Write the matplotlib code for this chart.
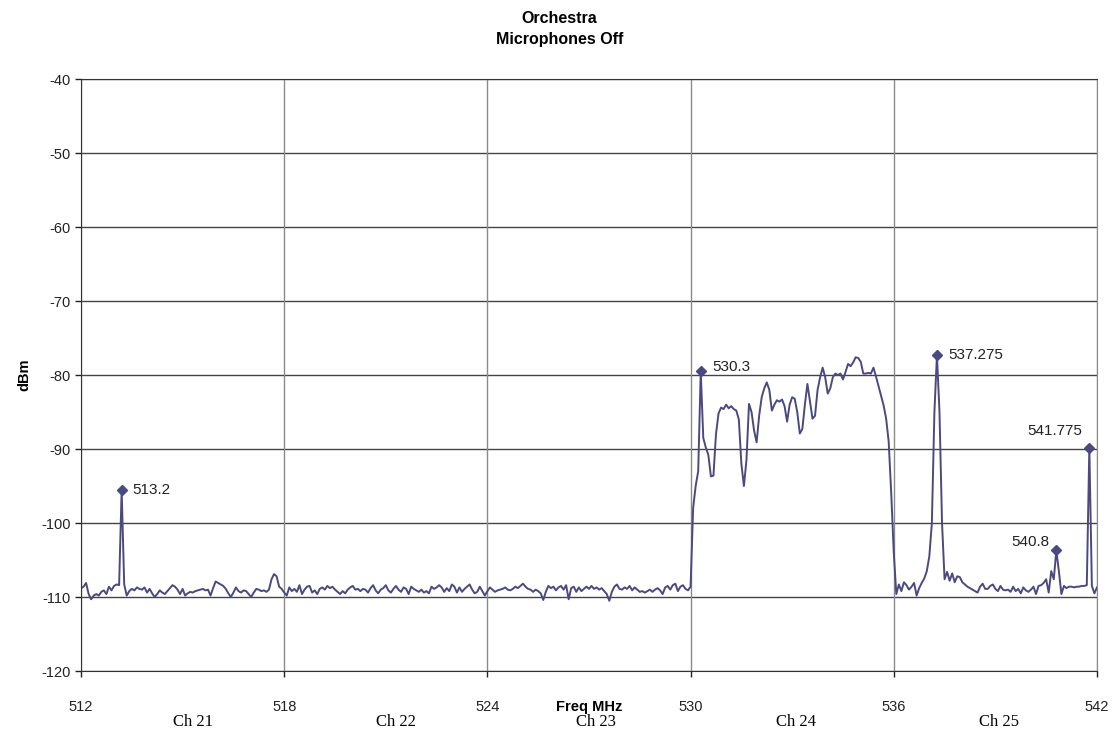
"""
Spectrum scan - Orchestra, microphones off
"""

import numpy as np
import matplotlib.pyplot as plt

plt.rcParams['font.family'] = ['Liberation Sans', 'DejaVu Sans']
plt.rcParams['axes.unicode_minus'] = False

#%% Data (401 sweep points, 0.075 MHz step)
f_start, f_stop = 512, 542
dbm = [
    -108.8, -108.6, -108.1, -109.6, -110.3, -109.8, -109.6, -109.8, -109.3, -109.1,
    -109.6, -108.6, -109.1, -108.5, -108.3, -108.4, -95.5, -108.3, -109.8, -109.2,
    -108.9, -109.1, -108.7, -108.9, -109.0, -108.7, -109.4, -108.9, -109.5, -110.0,
    -109.6, -109.1, -109.4, -109.6, -109.2, -108.8, -108.4, -108.6, -109.0, -109.6,
    -108.9, -109.8, -109.5, -109.3, -109.4, -109.2, -109.1, -109.0, -108.9, -109.1,
    -109.0, -109.8, -108.8, -107.9, -108.1, -108.3, -108.5, -108.9, -109.5, -110.0,
    -109.4, -108.7, -109.2, -109.4, -109.1, -109.2, -109.6, -110.0, -109.4, -108.9,
    -109.0, -109.2, -109.1, -109.3, -109.0, -107.6, -106.9, -107.2, -108.6, -108.9,
    -109.4, -109.8, -108.7, -109.2, -108.9, -109.3, -108.4, -109.6, -109.0, -108.6,
    -108.5, -109.4, -109.1, -109.6, -108.9, -108.7, -109.0, -108.5, -108.8, -108.6,
    -109.0, -109.3, -109.6, -109.2, -109.5, -109.0, -108.7, -108.5, -109.0, -108.9,
    -109.2, -108.9, -109.0, -109.4, -108.8, -108.4, -109.1, -109.5, -109.0, -108.8,
    -108.4, -109.1, -109.4, -108.9, -108.5, -109.0, -109.3, -108.7, -108.9, -109.6,
    -108.6, -108.9, -109.1, -109.3, -109.0, -109.4, -109.2, -109.5, -108.6, -108.9,
    -108.7, -108.4, -108.7, -109.3, -108.8, -109.2, -108.3, -108.6, -109.4, -108.7,
    -109.3, -108.9, -108.6, -108.3, -109.0, -109.5, -109.3, -108.6, -109.2, -109.8,
    -109.2, -108.7, -109.0, -109.3, -109.1, -109.0, -108.9, -108.7, -109.0, -109.1,
    -108.9, -108.6, -108.8, -108.5, -108.2, -108.6, -108.9, -109.0, -109.3, -109.0,
    -109.2, -109.5, -110.4, -109.3, -108.5, -108.8, -108.6, -109.1, -108.7, -108.5,
    -109.0, -108.4, -110.3, -108.8, -108.6, -109.3, -108.7, -109.2, -108.9, -108.6,
    -108.9, -108.5, -108.9, -108.7, -109.0, -108.8, -109.2, -109.6, -110.5, -109.3,
    -108.6, -108.3, -108.9, -109.0, -108.7, -108.9, -108.5, -109.1, -108.7, -109.0,
    -109.3, -109.2, -109.4, -109.2, -109.0, -109.3, -109.0, -108.8, -109.1, -109.6,
    -108.7, -108.5, -109.0, -108.4, -108.2, -109.2, -108.6, -108.4, -108.9, -109.1,
    -108.6, -98.0, -95.0, -93.0, -79.5, -88.5, -89.8, -90.8, -93.7, -93.6,
    -88.0, -85.2, -84.4, -84.6, -84.0, -84.5, -84.2, -84.6, -84.8, -86.0,
    -92.0, -95.0, -91.5, -83.9, -85.0, -87.5, -89.1, -85.5, -83.0, -81.8,
    -81.0, -82.0, -84.8, -84.0, -83.4, -83.6, -83.3, -84.2, -86.3, -84.0,
    -83.0, -83.2, -85.0, -87.9, -87.3, -84.0, -81.2, -83.5, -85.9, -85.5,
    -82.0, -80.3, -79.0, -80.3, -82.5, -81.8, -80.3, -79.8, -80.0, -79.8,
    -80.6, -79.6, -78.5, -78.8, -78.3, -77.6, -77.7, -78.2, -79.8, -79.8,
    -79.7, -79.8, -79.0, -80.2, -81.5, -82.8, -84.1, -85.9, -89.0, -96.0,
    -104.0, -109.6, -108.3, -109.2, -108.0, -108.4, -109.0, -108.6, -108.1, -109.8,
    -108.8, -108.1, -107.5, -106.5, -104.5, -100.0, -85.0, -77.3, -85.0, -100.0,
    -107.6, -106.6, -107.8, -106.8, -108.0, -107.2, -107.3, -108.0, -108.3, -108.6,
    -108.8, -109.0, -109.2, -109.4, -108.6, -108.2, -108.9, -108.9, -108.5, -108.3,
    -108.9, -109.2, -108.5, -109.0, -109.1, -109.0, -109.3, -108.6, -109.2, -108.9,
    -109.5, -108.7, -109.1, -109.3, -109.0, -108.6, -109.6, -108.5, -108.4, -108.1,
    -107.6, -109.4, -106.5, -107.6, -103.7, -106.5, -109.6, -108.5, -108.8, -108.6,
    -108.6, -108.7, -108.6, -108.6, -108.5, -108.5, -108.4, -89.8, -108.5, -109.5,
    -108.7,
]
freq = np.linspace(f_start, f_stop, len(dbm))

# Marked peaks
peak_freqs = [513.2, 530.3, 537.275, 540.8, 541.775]
peak_dbm = [-95.5, -79.5, -77.3, -103.7, -89.8]
peak_labels = ['513.2', '530.3', '537.275', '540.8', '541.775']

# TV channel labels under the axis
channels = ['Ch 21', 'Ch 22', 'Ch 23', 'Ch 24', 'Ch 25']
channel_pos = [515.3, 521.3, 527.2, 533.1, 539.1]

x_ticks = [512, 518, 524, 530, 536, 542]
y_ticks = [-40, -50, -60, -70, -80, -90, -100, -110, -120]

#%% Plot
trace_color = '#4b4a7e'
fig = plt.figure(figsize=(11.19, 7.32), dpi=100)
ax = fig.add_axes([0.0724, 0.0833, 0.9079, 0.8087])

ax.plot(freq, dbm, color=trace_color, lw=1.4)
ax.plot(peak_freqs, peak_dbm, 'D', color=trace_color, markersize=5)

offsets = [(8, 0, 'left'), (8, 3, 'left'), (8, 0, 'left'), (-5, 6, 'right'), (-5, 12, 'right')]
for fx, fy, lab, (dx, dy, ha) in zip(peak_freqs, peak_dbm, peak_labels, offsets):
    ax.annotate(lab, (fx, fy), xytext=(dx, dy), textcoords='offset points',
                ha=ha, va='center', fontsize=11, color='#222222')

ax.set_xlim(f_start, f_stop)
ax.set_ylim(-120, -40)
ax.set_xticks(x_ticks)
ax.set_yticks(y_ticks)
ax.tick_params(axis='both', labelsize=10.5, colors='#222222', length=4, width=1)
ax.tick_params(axis='x', pad=17)

# grid: dark horizontal, grey vertical
for yv in y_ticks:
    ax.axhline(yv, color='#444444', lw=1, zorder=0)
for xv in x_ticks:
    ax.axvline(xv, color='#8a8a8a', lw=1, zorder=0)

for side in ['left', 'bottom', 'top']:
    ax.spines[side].set_color('#333333')
ax.spines['right'].set_color('#8a8a8a')

ax.set_ylabel('dBm', fontsize=10.5, fontweight='bold', labelpad=7)
ax.annotate('Freq MHz', (527, -120), xytext=(0, -21), textcoords='offset points',
            ha='center', va='top', fontsize=10.5, fontweight='bold')
for pos, ch in zip(channel_pos, channels):
    ax.annotate(ch, (pos, -120), xytext=(0, -31), textcoords='offset points',
                ha='center', va='top', fontsize=12, family=['Liberation Serif'])

fig.suptitle('Orchestra\nMicrophones Off', fontsize=11.5, fontweight='bold',
             y=0.985, linespacing=1.5)

plt.savefig('out.png', dpi=100)
